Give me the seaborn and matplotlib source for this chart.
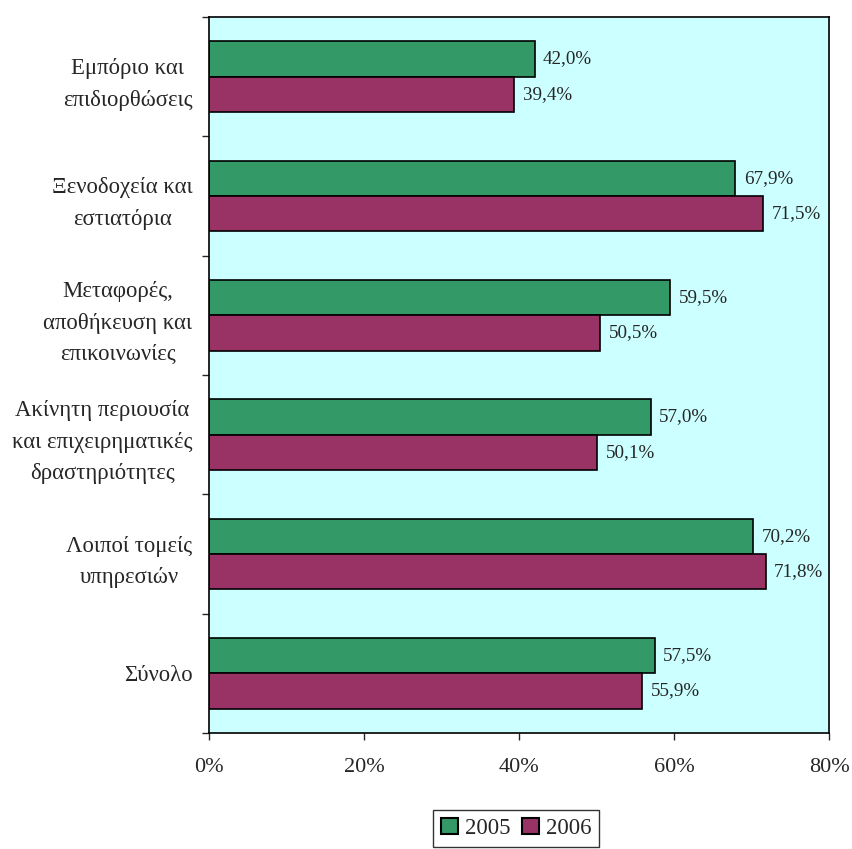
import matplotlib
matplotlib.use("Agg")
import matplotlib.pyplot as plt
import seaborn as sns
import pandas as pd
from matplotlib.ticker import FixedLocator

categories = ["Εμπόριο και\nεπιδιορθώσεις", "Ξενοδοχεία και\nεστιατόρια",
              "Μεταφορές,\nαποθήκευση και\nεπικοινωνίες",
              "Ακίνητη περιουσία\nκαι επιχειρηματικές\nδραστηριότητες",
              "Λοιποί τομείς\nυπηρεσιών", "Σύνολο"]
values_2005 = [42.0, 67.9, 59.5, 57.0, 70.2, 57.5]
values_2006 = [39.4, 71.5, 50.5, 50.1, 71.8, 55.9]
years = ["2005", "2006"]
xticks = [0, 20, 40, 60, 80]

df = pd.DataFrame({
    "cat": categories * 2,
    "val": values_2005 + values_2006,
    "year": [years[0]] * len(categories) + [years[1]] * len(categories),
})

sns.set_style("white")
plt.rcParams["font.family"] = ["Liberation Serif", "DejaVu Serif"]

fig = plt.figure(figsize=(8.53, 8.49), dpi=100)
ax = fig.add_axes([0.245, 0.1366, 0.727, 0.8434])
ax.set_facecolor("#CCFFFF")

sns.barplot(data=df, y="cat", x="val", hue="year", orient="h",
            palette=["#339966", "#993366"], width=0.59, dodge=True,
            edgecolor="black", linewidth=1.2, ax=ax, saturation=1)

for cont in ax.containers:
    labels = [f"{v:.1f}".replace(".", ",") + "%" for v in cont.datavalues]
    ax.bar_label(cont, labels=labels, padding=6, fontsize=13.7)

ax.set_xlim(0, 80)
ax.set_ylim(len(categories) - 0.5, -0.5)
ax.set_xticks(xticks)
ax.set_xticklabels([f"{t}%" for t in xticks], fontsize=16)
ax.tick_params(axis="x", length=5, width=1, direction="out", pad=13, bottom=True)
ax.set_yticks(range(len(categories)))
ax.set_yticklabels(categories, fontsize=16.4, multialignment="center", linespacing=1.65)
ax.tick_params(axis="y", which="major", length=0, pad=12)
ax.yaxis.set_minor_locator(FixedLocator([i - 0.5 for i in range(len(categories) + 1)]))
ax.tick_params(axis="y", which="minor", length=5, width=1, left=True, direction="out")
ax.set_xlabel("")
ax.set_ylabel("")
for s in ax.spines.values():
    s.set_visible(True)
    s.set_color("black")
    s.set_linewidth(1.2)

leg = ax.legend(loc="upper center", bbox_to_anchor=(0.495, -0.107), ncol=2,
                frameon=True, fancybox=False, fontsize=16.5, handlelength=0.75,
                handleheight=0.75, handletextpad=0.3, columnspacing=0.5,
                borderpad=0.35, borderaxespad=0, edgecolor="black")
leg.get_frame().set_linewidth(1.0)
for h in leg.legend_handles:
    h.set_edgecolor("black")
    h.set_linewidth(1.5)

fig.savefig("out.png", dpi=100)
